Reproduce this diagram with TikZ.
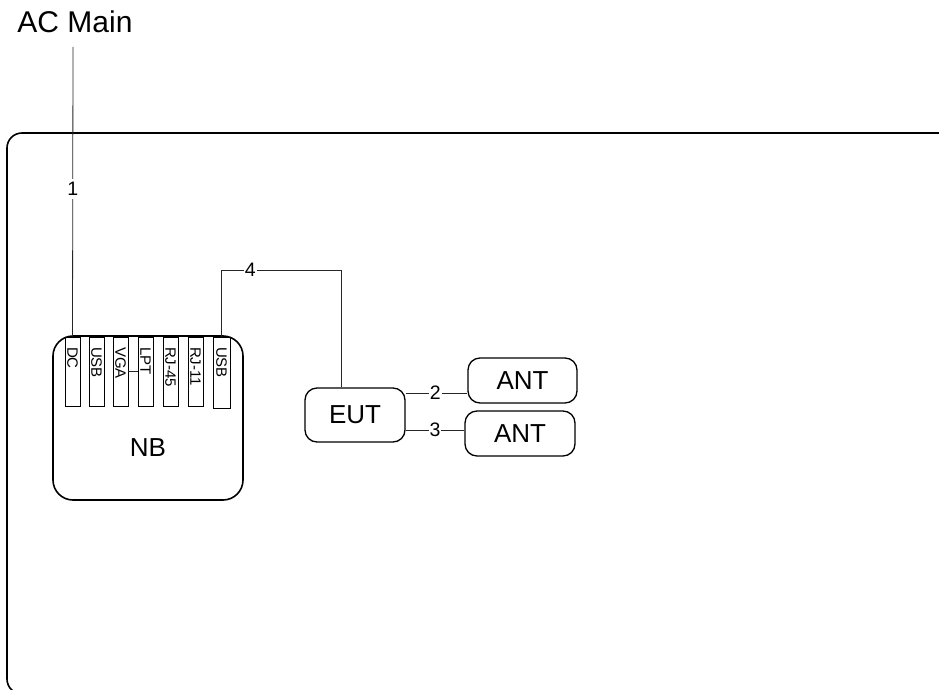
\documentclass[tikz,border=0pt]{standalone}
\usepackage{fontspec}
\setmainfont{Liberation Sans}
\begin{document}
\begin{tikzpicture}[x=1pt,y=-1pt,
  frame/.style={draw, line width=1.6pt, rounded corners=15pt},
  box/.style={draw, line width=1.3pt, rounded corners=12pt, inner sep=0pt, font=\fontsize{26}{29}\selectfont},
  port/.style={draw, line width=0.8pt, rotate=-90, inner sep=0pt, inner xsep=10pt,
    minimum width=69pt, minimum height=15pt, text width=49pt, align=left,
    font=\fontsize{15}{16}\selectfont},
  wire/.style={draw, line width=0.8pt, black!85},
  lbl/.style={fill=white, inner xsep=1pt, inner ysep=3pt, font=\fontsize{19.5}{21}\selectfont, text=black}
]
\useasboundingbox (0,0) rectangle (939,690);
\clip (0,0) rectangle (939,690);

% enclosure
\path[frame] (7,133) rectangle (960,694);

% mains feed
\node[font=\fontsize{30}{34}\selectfont] (ac) at (75,22) {AC Main};
\coordinate (acdrop) at (73,47);

% notebook
\node[box, line width=1.6pt, rounded corners=20pt, minimum width=190pt, minimum height=164pt] (nb) at (148,418) {};
\node[font=\fontsize{26}{29}\selectfont] (nbtext) at (148,448) {NB};

% notebook ports
\node[port] (dc)   at (72.5,371.5)  {DC};
\node[port] (usba) at (96.5,371.5)  {USB};
\node[port] (vga)  at (120.5,371.5) {VGA};
\node[port] (lpt)  at (145.5,371.5) {LPT};
\node[port] (rja)  at (170.5,371.5) {RJ-45};
\node[port] (rjb)  at (195.5,371.5) {RJ-11};
\node[port, minimum width=71pt, minimum height=17pt, text width=51pt] (usbb) at (221.5,372.5) {USB};
\draw[wire] (vga.north) -- (lpt.south);

% equipment and antennas
\node[box, minimum width=100pt, minimum height=54pt] (eut) at (355,415) {EUT};
\node[box, minimum width=109pt, minimum height=45pt] (anta) at (522.5,380.5) {ANT};
\node[box, minimum width=110pt, minimum height=45pt] (antb) at (520,433.5) {ANT};

% cables
\draw[wire] (acdrop) -- node[lbl, pos=0.49] {1} (dc.west);
\coordinate (bend) at (341,270);
\draw[wire] (usbb.west) |- node[lbl, pos=0.62, inner ysep=1pt] {4} (bend) -- (bend |- eut.north);
\draw[wire] ([yshift=22pt]eut.east) -- node[lbl, pos=0.48, inner ysep=1pt] {2} ([yshift=22pt]eut.east -| anta.west);
\draw[wire] ([yshift=-15pt]eut.east) -- node[lbl, pos=0.5, inner ysep=1pt] {3} ([yshift=-15pt]eut.east -| antb.west);
\end{tikzpicture}
\end{document}
